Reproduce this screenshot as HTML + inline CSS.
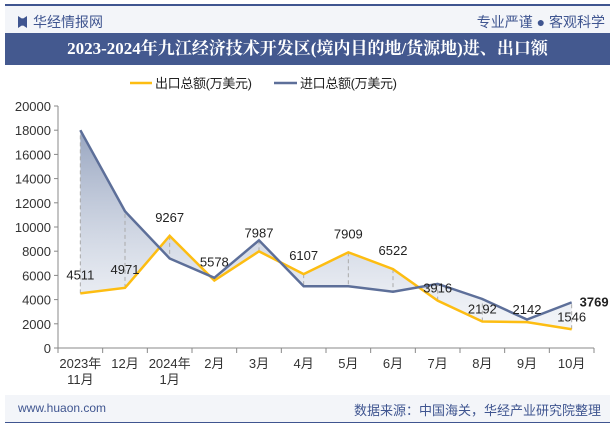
<!DOCTYPE html>
<html><head><meta charset="utf-8"><style>
body{margin:0;width:615px;height:427px;overflow:hidden;background:#fff;font-family:"Liberation Sans","Noto Sans CJK SC",sans-serif;position:relative}
.abs{position:absolute}
</style></head><body>
<div class="abs" style="left:5px;top:4px;width:605px;height:2px;background:#3f5590"></div>
<div class="abs" style="left:5px;top:6px;width:605px;height:27px;background:#f3f5f9"></div>
<div class="abs" style="left:18px;top:12px;font-size:14px;color:#3f5590">
<span style="display:inline-block;width:9px;height:12px;background:#3f5590;vertical-align:-1px;margin-right:6px;clip-path:polygon(0 0,40% 20%,60% 20%,100% 0,100% 100%,60% 80%,40% 80%,0 100%)"></span>华经情报网</div>
<div class="abs" style="right:10px;top:12px;font-size:14px;color:#3f5590">专业严谨 ● 客观科学</div>
<div class="abs" style="left:5px;top:33px;width:605px;height:32px;background:#44598f;color:#fff;font-family:'Liberation Serif','Noto Serif CJK SC',serif;font-weight:bold;font-size:17px;line-height:32px;text-align:center">2023-2024年九江经济技术开发区(境内目的地/货源地)进、出口额</div>
<div class="abs" style="left:5px;top:395px;width:605px;height:27px;background:#f3f5f9"></div>
<div class="abs" style="left:5px;top:422px;width:605px;height:1px;background:#3f5590"></div>
<div class="abs" style="left:18px;top:401px;font-size:12px;color:#3f5590">www.huaon.com</div>
<div class="abs" style="right:14px;top:400px;font-size:13px;color:#3f5590">数据来源：中国海关，华经产业研究院整理</div>
<svg class="abs" style="left:0;top:0" width="615" height="427" id="chart">
<defs><linearGradient id="g" x1="0" y1="0" x2="0" y2="1"><stop offset="0" stop-color="#8c9bb9" stop-opacity="0.9"/><stop offset="1" stop-color="#e8ecf3" stop-opacity="0.5"/></linearGradient></defs>
</svg>
<script>
const categories=["2023年\n11月","12月","2024年\n1月","2月","3月","4月","5月","6月","7月","8月","9月","10月"];
const exportVals=[4511,4971,9267,5578,7987,6107,7909,6522,3916,2192,2142,1546];
const importVals=[18000,11300,7400,5800,8900,5100,5100,4650,5300,4050,2350,3769];
const yTicks=[0,2000,4000,6000,8000,10000,12000,14000,16000,18000,20000];
const svg=document.getElementById('chart');const NS='http://www.w3.org/2000/svg';
const X0=58,X1=594,Y0=348,Y1=106;
const bw=(X1-X0)/categories.length;
const x=i=>X0+bw*(i+0.5);const y=v=>Y0-(v/20000)*(Y0-Y1);
function mk(t,a,p){const e=document.createElementNS(NS,t);for(const k in a)e.setAttribute(k,a[k]);(p||svg).appendChild(e);return e;}
// legend
let l=mk('line',{x1:130,y1:83,x2:152,y2:83,stroke:'#fdbd12','stroke-width':2.5});

let t=mk('text',{x:155,y:88,'font-size':13,fill:'#222',textLength:97});t.textContent='出口总额(万美元)';

l=mk('line',{x1:274,y1:83,x2:297,y2:83,stroke:'#5d6f99','stroke-width':2.5});

t=mk('text',{x:300,y:88,'font-size':13,fill:'#222',textLength:97});t.textContent='进口总额(万美元)';

// area
let pts=importVals.map((v,i)=>x(i)+','+y(v));for(let i=exportVals.length-1;i>=0;i--)pts.push(x(i)+','+y(exportVals[i]));
let a=mk('polygon',{points:pts.join(' '),fill:'url(#g)'});

// axes
let ax=mk('line',{x1:X0,y1:Y1,x2:X0,y2:Y0,stroke:'#888'});
ax=mk('line',{x1:X0,y1:Y0,x2:X1,y2:Y0,stroke:'#888'});
yTicks.forEach(v=>{mk('line',{x1:X0-4,y1:y(v),x2:X0,y2:y(v),stroke:'#888'});
const tt=mk('text',{x:X0-7,y:y(v)+5,'font-size':13,fill:'#333','text-anchor':'end'});tt.textContent=v;
});
for(let i=0;i<=categories.length;i++)mk('line',{x1:X0+bw*i,y1:Y0,x2:X0+bw*i,y2:Y0+5,stroke:'#888'});
categories.forEach((c,i)=>{c.split('\n').forEach((s,j)=>{const tt=mk('text',{x:x(i),y:Y0+20+j*16,'font-size':13,fill:'#333','text-anchor':'middle'});tt.textContent=s;
});});
// dashed connectors
exportVals.forEach((v,i)=>{const d=mk('line',{x1:x(i),y1:y(v),x2:x(i),y2:y(importVals[i]),stroke:'#aaa','stroke-dasharray':'4,3'});
});
let p=mk('polyline',{points:exportVals.map((v,i)=>x(i)+','+y(v)).join(' '),fill:'none',stroke:'#fdbd12','stroke-width':2.5});

p=mk('polyline',{points:importVals.map((v,i)=>x(i)+','+y(v)).join(' '),fill:'none',stroke:'#5d6f99','stroke-width':2.5});

exportVals.forEach((v,i)=>{
const tt=mk('text',{x:x(i),y:(i<2?y(v)-14:(i>=8?y(v)-8:y(v)-14)),'font-size':13,fill:'#222','text-anchor':'middle'});tt.textContent=v;
});
t=mk('text',{x:x(11)+8,y:y(importVals[11])+4,'font-size':13,'font-weight':'bold',fill:'#222'});t.textContent=importVals[11];

</script>
</body></html>
